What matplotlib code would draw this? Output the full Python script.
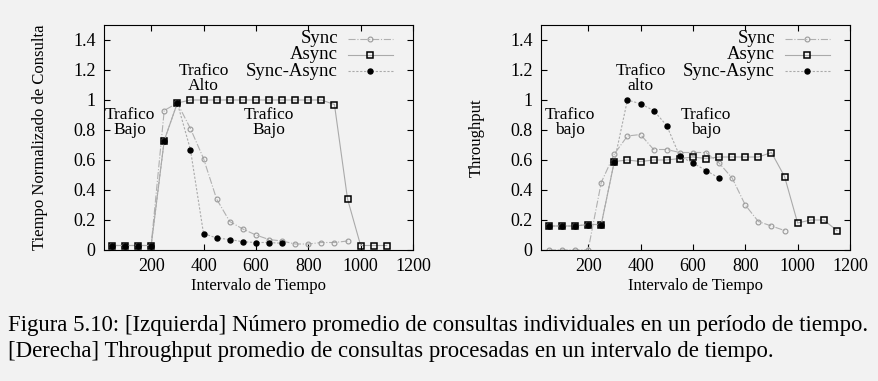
import matplotlib.pyplot as plt
from matplotlib.lines import Line2D

plt.rcParams['font.family'] = ['Liberation Serif', 'DejaVu Serif']

# left chart: tiempo normalizado de consulta
x_sync_l = [50, 100, 150, 200, 250, 300, 350, 400, 450, 500, 550, 600, 650, 700, 750, 800, 850, 900, 950]
y_sync_l = [0.03, 0.03, 0.03, 0.03, 0.93, 0.98, 0.81, 0.61, 0.34, 0.19, 0.14, 0.10, 0.07, 0.06, 0.04, 0.04, 0.05, 0.05, 0.06]
x_async_l = [50, 100, 150, 200, 250, 300, 350, 400, 450, 500, 550, 600, 650, 700, 750, 800, 850, 900, 950, 1000, 1050, 1100]
y_async_l = [0.03, 0.03, 0.03, 0.03, 0.73, 0.98, 1.0, 1.0, 1.0, 1.0, 1.0, 1.0, 1.0, 1.0, 1.0, 1.0, 1.0, 0.97, 0.34, 0.03, 0.03, 0.03]
x_sa_l = [50, 100, 150, 200, 250, 300, 350, 400, 450, 500, 550, 600, 650, 700]
y_sa_l = [0.03, 0.03, 0.03, 0.03, 0.73, 0.98, 0.67, 0.11, 0.08, 0.07, 0.055, 0.05, 0.05, 0.045]

# right chart: throughput
x_sync_r = [50, 100, 150, 200, 250, 300, 350, 400, 450, 500, 550, 600, 650, 700, 750, 800, 850, 900, 950]
y_sync_r = [0, 0, 0, 0, 0.45, 0.64, 0.76, 0.77, 0.67, 0.67, 0.65, 0.65, 0.65, 0.58, 0.48, 0.30, 0.19, 0.16, 0.13]
x_async_r = [50, 100, 150, 200, 250, 300, 350, 400, 450, 500, 550, 600, 650, 700, 750, 800, 850, 900, 950, 1000, 1050, 1100, 1150]
y_async_r = [0.16, 0.16, 0.16, 0.17, 0.17, 0.59, 0.60, 0.59, 0.60, 0.60, 0.61, 0.62, 0.61, 0.62, 0.62, 0.62, 0.62, 0.65, 0.49, 0.18, 0.20, 0.20, 0.13]
x_sa_r = [50, 100, 150, 200, 250, 300, 350, 400, 450, 500, 550, 600, 650, 700]
y_sa_r = [0.16, 0.16, 0.16, 0.17, 0.17, 0.59, 1.0, 0.975, 0.93, 0.83, 0.625, 0.58, 0.53, 0.48]

xticks = [200, 400, 600, 800, 1000, 1200]
yticks = [0, 0.2, 0.4, 0.6, 0.8, 1, 1.2, 1.4]
ytick_labels = ['0', '0.2', '0.4', '0.6', '0.8', '1', '1.2', '1.4']
series_names = ['Sync', 'Async', 'Sync-Async']

bg = '#f2f2f2'
fig = plt.figure(figsize=(8.79, 3.81), dpi=100, facecolor=bg)
ax1 = fig.add_axes([104/879, 1-250/381, 309/879, 225/381], facecolor=bg)
ax2 = fig.add_axes([541/879, 1-250/381, 309/879, 225/381], facecolor=bg)

# gnuplot-like styles for each series
styles = [
    dict(color='#b0b0b0', lw=0.8, ls='-.', marker='o', ms=3.5, mfc='none', mec='#999999', mew=0.8),
    dict(color='#aaaaaa', lw=0.8, ls='-', marker='s', ms=4.2, mfc='none', mec='black', mew=1.1),
    dict(color='#aaaaaa', lw=0.8, ls=(0, (2, 1.5)), marker='o', ms=3.6, mfc='black', mec='black'),
]


def draw(ax, xs, ys, xa, ya, xsa, ysa):
    for (x, y), st in zip([(xs, ys), (xa, ya), (xsa, ysa)], styles):
        ax.plot(x, y, **st)
    ax.set_xlim(20, 1200)
    ax.set_ylim(0, 1.5)
    ax.set_xticks(xticks)
    ax.set_yticks(yticks)
    ax.set_yticklabels(ytick_labels)
    ax.tick_params(direction='in', top=True, right=True, labelsize=13, length=4, pad=6)
    ax.set_xlabel('Intervalo de Tiempo', fontsize=12, labelpad=2)
    # legend drawn by hand, text right aligned like gnuplot
    for i, (name, st) in enumerate(zip(series_names, styles)):
        yy = 0.94 - i * 0.073
        ax.text(0.757, yy, name, transform=ax.transAxes, ha='right', va='center', fontsize=13.5)
        ax.add_line(Line2D([0.789, 0.935], [yy, yy], transform=ax.transAxes,
                           color=st['color'], lw=st['lw'], ls=st['ls']))
        ax.add_line(Line2D([0.861], [yy], transform=ax.transAxes, ls='none',
                           marker=st['marker'], ms=st['ms'], mfc=st['mfc'], mec=st['mec'],
                           mew=st.get('mew', 1.0)))


draw(ax1, x_sync_l, y_sync_l, x_async_l, y_async_l, x_sa_l, y_sa_l)
draw(ax2, x_sync_r, y_sync_r, x_async_r, y_async_r, x_sa_r, y_sa_r)

ax1.set_ylabel('Tiempo Normalizado de Consulta', fontsize=12, labelpad=18)
ax2.set_ylabel('Throughput', fontsize=12, labelpad=18)

ax1.text(120, 0.85, 'Trafico\nBajo', ha='center', va='center', fontsize=12.5, linespacing=0.95)
ax1.text(400, 1.145, 'Trafico\nAlto', ha='center', va='center', fontsize=12.5, linespacing=0.95)
ax1.text(648, 0.85, 'Trafico\nBajo', ha='center', va='center', fontsize=12.5, linespacing=0.95)
ax2.text(129, 0.85, 'Trafico\nbajo', ha='center', va='center', fontsize=12.5, linespacing=0.95)
ax2.text(400, 1.145, 'Trafico\nalto', ha='center', va='center', fontsize=12.5, linespacing=0.95)
ax2.text(650, 0.85, 'Trafico\nbajo', ha='center', va='center', fontsize=12.5, linespacing=0.95)

fig.text(8/879, 1-325/381, 'Figura 5.10: [Izquierda] Número promedio de consultas individuales en un período de tiempo.',
         fontsize=16.4, va='center', ha='left')
fig.text(8/879, 1-351/381, '[Derecha] Throughput promedio de consultas procesadas en un intervalo de tiempo.',
         fontsize=16.4, va='center', ha='left')

fig.savefig('out.png', dpi=100, facecolor=bg)
